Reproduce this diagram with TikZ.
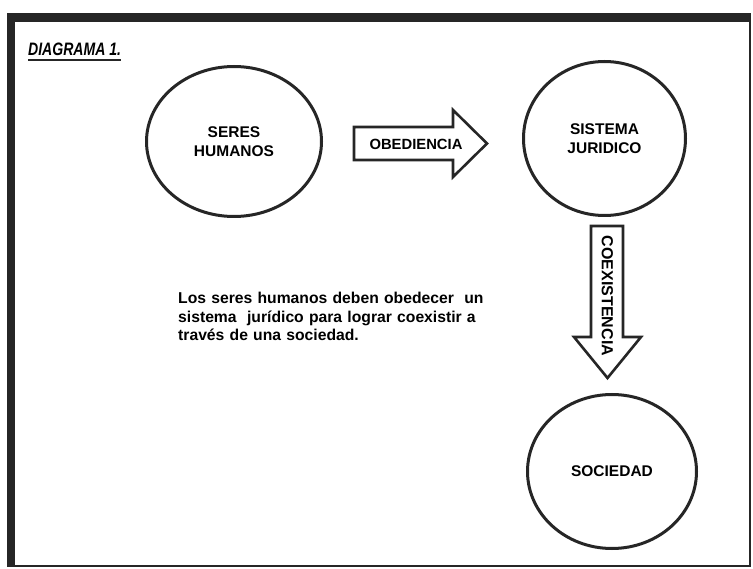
\documentclass[tikz,border=0pt]{standalone}
\usepackage{fontspec}
\setmainfont{Liberation Sans}
\usetikzlibrary{shapes.geometric}
\begin{document}
\begin{tikzpicture}[x=1pt,y=-1pt,
  bubble/.style={draw=black!85,line width=3pt,ellipse,align=center,
    font=\fontsize{15.5}{19}\selectfont\bfseries,inner sep=0pt},
  blockarrow/.style={draw=black!85,line width=2.6pt,fill=white,line join=miter},
  arrowtext/.style={font=\fontsize{14.8}{17}\selectfont\bfseries,inner sep=0pt}]
\useasboundingbox (0,0) rectangle (753,569);
% frame: thin right and bottom edges, heavy top and left edges
\draw[black!85,line width=2.5pt] (11,18) rectangle (750,566);
\fill[black!85] (7,13) rectangle (751,22);
\fill[black!85] (7,13) rectangle (15,567.2);
% title
\node[anchor=base west,inner sep=0pt,font=\fontsize{18}{20}\selectfont\bfseries\itshape] (title) at (28,56)
  {\scalebox{0.78}[1]{DIAGRAMA 1.}};
\draw[black!85,line width=1.8pt] (title.south west) ++(0,3.5) -- ([yshift=-3.5pt]title.south east);
% the three bubbles
\node[bubble,minimum width=175pt,minimum height=150pt] (seres) at (234,141.5) {SERES\\HUMANOS};
\node[bubble,minimum width=162pt,minimum height=154pt] (sistema) at (604.5,138.5) {SISTEMA\\JURIDICO};
\node[bubble,minimum width=169pt,minimum height=154pt] (sociedad) at (612,471.5) {SOCIEDAD};
% block arrow: obedience
\draw[blockarrow] (354,127) -- (453,127) -- (453,110) -- (487,143.5) -- (453,177) -- (453,160) -- (354,160) -- cycle;
\node[arrowtext] (obed) at (416,144.5) {OBEDIENCIA};
% block arrow: coexistence
\draw[blockarrow] (591,226) -- (623,226) -- (623,337) -- (641,337) -- (607.5,378) -- (574,337) -- (591,337) -- cycle;
\node[arrowtext,font=\fontsize{16}{18}\selectfont\bfseries,rotate=-90] (coex) at (607.5,296) {COEXISTENCIA};
% explanatory paragraph
\node[anchor=north west,inner sep=0pt,text width=306pt,align=left,
  font=\fontsize{15.7}{18.5}\selectfont\bfseries] (texto) at (178,292)
  {Los seres humanos deben obedecer\ \ un\\
   \makebox[306pt][s]{sistema\ \ jurídico para lograr coexistir a}\\
   través de una sociedad.};
\end{tikzpicture}
\end{document}
